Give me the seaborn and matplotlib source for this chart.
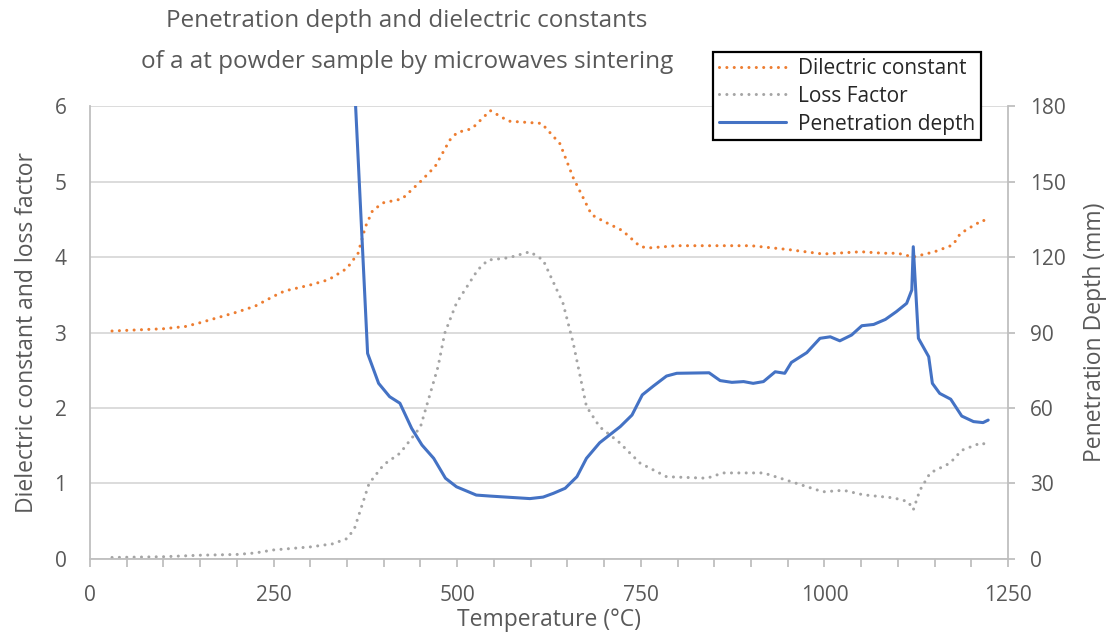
import matplotlib
matplotlib.use('Agg')
import matplotlib.pyplot as plt
import seaborn as sns
import pandas as pd

# Dielectric constant (left axis)
temp_eps = [30, 100, 130, 150, 200, 225, 250, 265, 300, 325, 350, 365, 375, 385, 400, 425,
            450, 470, 490, 500, 520, 545, 570, 600, 615, 640, 658, 683, 700, 725, 749, 760,
            800, 850, 900, 950, 998, 1050, 1080, 1100, 1121, 1150, 1175, 1185, 1200, 1216, 1223]
eps = [3.02, 3.05, 3.08, 3.13, 3.27, 3.35, 3.48, 3.55, 3.63, 3.70, 3.85, 4.05, 4.40, 4.62, 4.72, 4.77,
       5.00, 5.20, 5.55, 5.65, 5.70, 5.94, 5.80, 5.78, 5.77, 5.50, 5.05, 4.56, 4.47, 4.35, 4.14, 4.12,
       4.15, 4.15, 4.15, 4.10, 4.04, 4.07, 4.05, 4.05, 4.00, 4.07, 4.16, 4.31, 4.40, 4.49, 4.45]

# Loss factor (left axis)
temp_loss = [30, 100, 150, 200, 225, 250, 300, 330, 350, 360, 370, 380, 400, 422, 450, 474,
             483, 499, 528, 542, 570, 599, 617, 644, 658, 676, 694, 720, 749, 785, 840, 862,
             917, 940, 998, 1026, 1053, 1094, 1114, 1121, 1130, 1144, 1171, 1187, 1214, 1223]
loss = [0.02, 0.03, 0.05, 0.06, 0.08, 0.12, 0.16, 0.20, 0.27, 0.40, 0.70, 1.00, 1.25, 1.40, 1.75, 2.55,
        2.99, 3.39, 3.83, 3.96, 3.99, 4.07, 3.96, 3.39, 2.86, 2.02, 1.75, 1.55, 1.27, 1.09, 1.07, 1.14,
        1.14, 1.07, 0.89, 0.91, 0.85, 0.81, 0.76, 0.65, 0.91, 1.14, 1.27, 1.44, 1.54, 1.50]

# Penetration depth in mm (right axis)
temp_pd = [350, 360, 378, 393, 408, 422, 438, 452, 468, 484, 499, 526, 545, 572, 599, 617,
           631, 647, 663, 676, 694, 722, 738, 752, 767, 785, 799, 843, 858, 874, 890, 903,
           917, 933, 946, 955, 976, 994, 1008, 1021, 1037, 1051, 1067, 1083, 1098, 1112, 1119,
           1121, 1128, 1142, 1147, 1157, 1172, 1187, 1203, 1216, 1223]
pen_depth = [290, 190, 81.7, 69.8, 64.5, 61.9, 51.9, 45.3, 40.0, 32.1, 28.7, 25.4, 25.0, 24.5, 24.0, 24.6,
             26.1, 28.1, 32.7, 40.0, 46.2, 52.6, 57.2, 65.2, 68.7, 72.7, 73.8, 74.0, 70.9, 70.2, 70.5, 69.8,
             70.5, 74.4, 73.8, 78.1, 82.0, 87.7, 88.3, 86.7, 89.0, 92.7, 93.2, 95.2, 98.3, 101.6, 106.9,
             124.1, 87.7, 80.4, 69.8, 65.8, 63.5, 56.8, 54.6, 54.2, 55.2]

df_eps = pd.DataFrame({'T': temp_eps, 'v': eps})
df_loss = pd.DataFrame({'T': temp_loss, 'v': loss})
df_pd = pd.DataFrame({'T': temp_pd, 'v': pen_depth})

sns.set_style('white')
plt.rcParams['font.family'] = ['Open Sans', 'DejaVu Sans']
grey_txt = '#595959'
axis_col = '#bfbfbf'

fig = plt.figure(figsize=(11.11, 6.35), dpi=100)
ax = fig.add_axes([0.081, 0.1197, 0.8263, 0.7133])
ax2 = ax.twinx()

dot = (0, (0.01, 2.4))
sns.lineplot(data=df_eps, x='T', y='v', ax=ax, color='#ED7D31', lw=2.2,
             linestyle=dot, dash_capstyle='round', label='Dilectric constant', legend=False)
sns.lineplot(data=df_loss, x='T', y='v', ax=ax, color='#A5A5A5', lw=2.2,
             linestyle=dot, dash_capstyle='round', label='Loss Factor', legend=False)
sns.lineplot(data=df_pd, x='T', y='v', ax=ax2, color='#4472C4', lw=2.2,
             label='Penetration depth', legend=False)

ax.set_xlim(0, 1250)
ax.set_ylim(0, 6)
ax2.set_ylim(0, 180)
ax.set_xticks([0, 250, 500, 750, 1000, 1250])
ax.set_xticks(range(0, 1251, 50), minor=True)
ax.set_yticks(range(0, 7))
ax2.set_yticks(range(0, 181, 30))

ax.yaxis.grid(True, color='#d9d9d9', lw=1.3)
ax.set_axisbelow(True)
for a in (ax, ax2):
    for s in a.spines.values():
        s.set_visible(False)
ax.spines['bottom'].set_visible(True)
ax.spines['left'].set_visible(True)
ax2.spines['right'].set_visible(True)
for s in (ax.spines['bottom'], ax.spines['left'], ax2.spines['right']):
    s.set_color(axis_col)
    s.set_linewidth(1.3)

ax.tick_params(axis='x', which='both', direction='out', length=6, width=1.3, color=axis_col,
               labelsize=15, labelcolor=grey_txt, pad=13, bottom=True)
ax.tick_params(axis='y', length=0, labelsize=15, labelcolor=grey_txt, pad=17)
ax2.tick_params(axis='y', direction='out', length=5, width=1.3, color=axis_col,
                labelsize=15, labelcolor=grey_txt, pad=11, right=True)

ax.set_xlabel('Temperature (°C)', fontsize=16.5, color=grey_txt, labelpad=1)
ax.set_ylabel('Dielectric constant and loss factor', fontsize=16.5, color=grey_txt, labelpad=11)
ax2.set_ylabel('Penetration Depth (mm)', fontsize=16.5, color=grey_txt, labelpad=12)

fig.text(0.366, 0.935, 'Penetration depth and dielectric constants\nof a at powder sample by microwaves sintering',
         ha='center', va='center', fontsize=17.5, color=grey_txt, linespacing=1.95)

handles = ax.get_lines() + ax2.get_lines()
leg = fig.legend(handles=handles, labels=[h.get_label() for h in handles],
                 loc='upper left', bbox_to_anchor=(0.642, 0.918), fontsize=15,
                 frameon=True, fancybox=False, edgecolor='black', framealpha=1,
                 handlelength=3.2, borderpad=0.28, labelspacing=0.33, handletextpad=0.6,
                 borderaxespad=0)
leg.get_frame().set_linewidth(1.6)

fig.savefig('out.png', dpi=100)
